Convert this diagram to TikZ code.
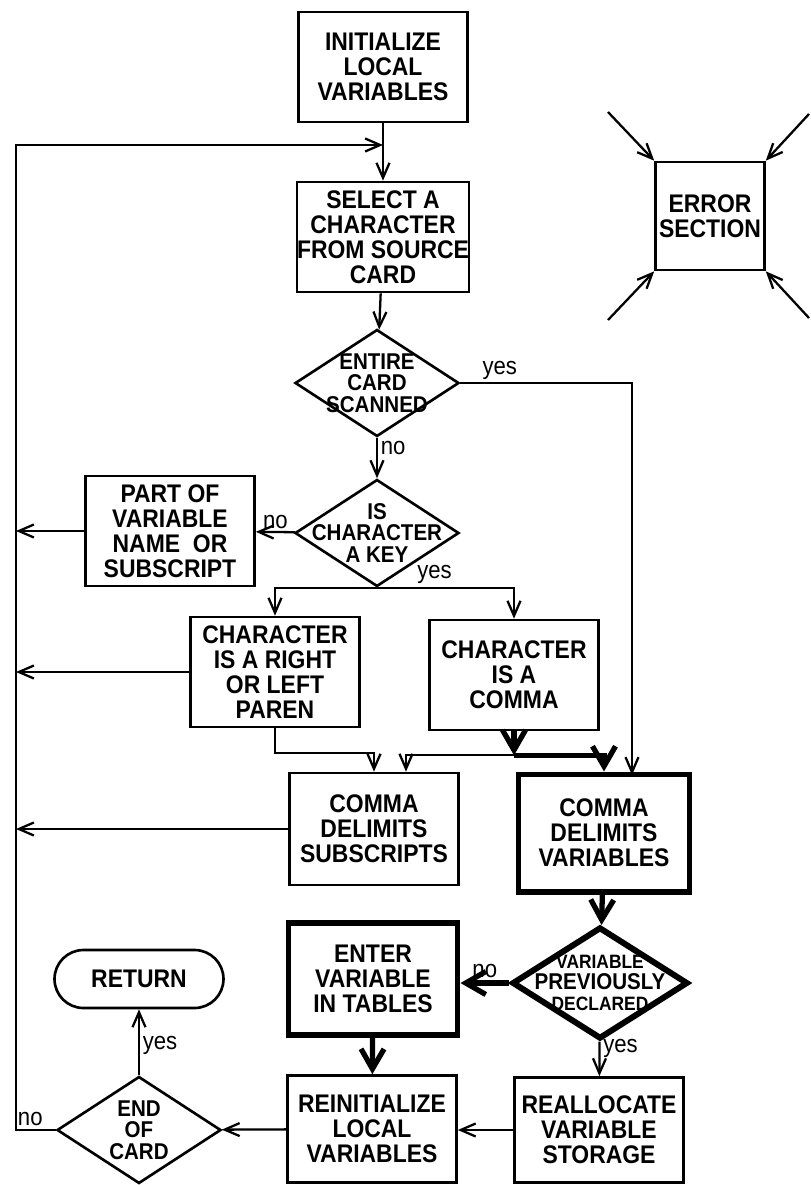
\documentclass[tikz,border=0pt]{standalone}
\usepackage{fontspec}
\setmainfont[FakeStretch=0.9]{Liberation Sans}
\usetikzlibrary{arrows.meta,positioning,shapes.geometric}

\newcommand\chartfont{\fontsize{14.5}{14.3}\selectfont\bfseries}
\newcommand\diafont{\fontsize{13}{12.3}\selectfont\bfseries}
\newcommand\smalldiafont{\fontsize{11}{11}\selectfont\bfseries}
\newcommand\tagfont{\fontsize{14}{14}\selectfont}

\begin{document}
\begin{tikzpicture}[x=0.2mm, y=-0.2mm,
  stepbox/.style={draw, line width=1.5pt, align=center, inner sep=0pt, font=\chartfont,
    minimum width=33.8mm, minimum height=22mm},
  heavybox/.style={stepbox, line width=3.4pt},
  decision/.style={draw, shape=diamond, line width=1.5pt, inner sep=0pt,
    minimum width=32.8mm, minimum height=21.4mm},
  flow/.style={line width=1.3pt, -{Straight Barb[length=3mm,width=2.6mm]}},
  heavyflow/.style={line width=3pt, -{Straight Barb[length=4mm,width=4.6mm]}},
  tag/.style={font=\tagfont, inner sep=1.5pt}]
  \useasboundingbox (0,0) rectangle (811,1185);

  % main column
  \node[stepbox] (init) at (383,67) {INITIALIZE\\LOCAL\\VARIABLES};
  \node[stepbox] (select) at (383,237) {SELECT A\\CHARACTER\\FROM SOURCE\\CARD};
  \node[decision, label={[font=\diafont,align=center]center:ENTIRE\\CARD\\SCANNED}] (scan) at (377,383) {};
  \node[decision, label={[font=\diafont,align=center]center:IS\\CHARACTER\\A KEY}] (key) at (377,533) {};
  \node[stepbox] (part) at (170,531) {PART OF\\VARIABLE\\NAME\enspace OR\\SUBSCRIPT};
  \node[stepbox] (paren) at (275,672) {CHARACTER\\IS A RIGHT\\OR LEFT\\PAREN};
  \node[stepbox] (comma) at (514,675) {CHARACTER\\IS A\\COMMA};
  \node[stepbox, minimum height=22.4mm] (cds) at (374,829) {COMMA\\DELIMITS\\SUBSCRIPTS};
  \node[heavybox, minimum width=34.2mm, minimum height=23.4mm] (cdv) at (604,833) {COMMA\\DELIMITS\\VARIABLES};
  \node[decision, line width=3.4pt, minimum width=35.2mm, minimum height=22.4mm,
    label={[align=center]center:{\smalldiafont VARIABLE}\\{\diafont PREVIOUSLY}\\{\smalldiafont DECLARED}}] (declared) at (600,983) {};
  \node[heavybox, minimum height=22.4mm] (enter) at (373,979) {ENTER\\VARIABLE\\IN TABLES};
  \node[stepbox, minimum height=21.4mm] (reinit) at (372,1129) {REINITIALIZE\\LOCAL\\VARIABLES};
  \node[stepbox, minimum height=21mm] (realloc) at (599,1130) {REALLOCATE\\VARIABLE\\STORAGE};
  \node[decision, label={[font=\diafont,align=center]center:END\\OF\\CARD}] (endcard) at (139,1130) {};
  \node[stepbox, rounded corners=5.8mm, minimum height=11.6mm] (ret) at (139,979) {RETURN};

  % error section
  \node[stepbox, minimum width=21.8mm, minimum height=21.6mm] (err) at (710,216) {ERROR\\SECTION};
  \coordinate (errnw) at (608,112);
  \coordinate (errne) at (809,114);
  \coordinate (errsw) at (608,320);
  \coordinate (errse) at (809,318);
  \draw[flow] (errnw) -- (err.north west);
  \draw[flow] (errne) -- (err.north east);
  \draw[flow] (errsw) -- (err.south west);
  \draw[flow] (errse) -- (err.south east);

  \coordinate (rail) at (16,145);
  \coordinate (yesdrop) at (632,775);

  \draw[flow] (init) -- (select);
  \draw[flow] (select) -- (scan);
  \draw[flow] (scan) -- node[tag, right, pos=0.25]{no} (key);
  \draw[flow] (scan.east) -- node[tag, above, pos=0.23]{yes} (scan.east -| yesdrop) -- (yesdrop);
  \draw[flow] (key) -- node[tag, above]{no} (part);
  \draw[flow] (key.south) -| (paren.north);
  \draw[flow] (key.south) -- node[tag, above, pos=0.42]{yes} (key.south -| comma.north) -- (comma.north);

  % joins below the two character boxes
  \draw[flow] (paren.south) -- ++(0,25) -| (cds.north);
  \draw[heavyflow] (comma.south) -- ++(0,24) coordinate (split);
  \draw[flow] (split) -| ([xshift=6.4mm]cds.north);
  \draw[heavyflow] (split) -| (cdv.north);

  \draw[heavyflow] (cdv) -- (declared);
  \draw[heavyflow] (declared.west) -- node[tag, above]{no} (enter.east |- declared.west);
  \draw[flow] (declared) -- node[tag, right, pos=0.2]{yes} (realloc);
  \draw[heavyflow] (enter) -- (reinit);
  \draw[flow] (realloc.west) -- (reinit.east |- realloc.west);
  \draw[flow] (reinit) -- (endcard);
  \draw[flow] (endcard) -- node[tag, right, pos=0.45]{yes} (ret);

  % loop back to the top
  \draw[flow] (endcard.west) -- node[tag, above, pos=0.64]{no} (endcard.west -| rail) -- (rail) -- (rail -| select.north);
  \draw[flow] (part.west) -- (part.west -| rail);
  \draw[flow] (paren.west) -- (paren.west -| rail);
  \draw[flow] (cds.west) -- (cds.west -| rail);
\end{tikzpicture}
\end{document}
